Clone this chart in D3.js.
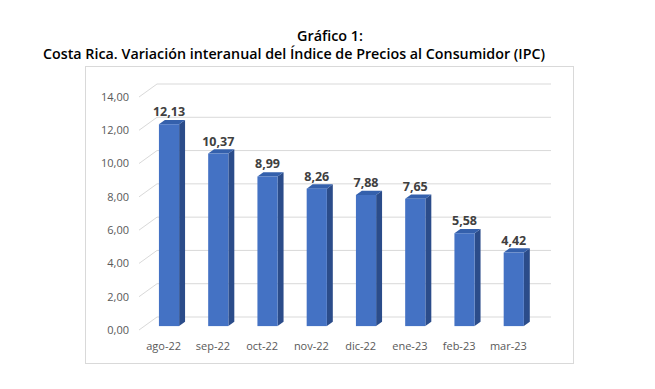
<!DOCTYPE html>
<html>
<head>
<meta charset="utf-8">
<script src="https://cdn.jsdelivr.net/npm/d3@7"></script>
<style>
  body { margin: 0; background: #fff; }
  svg { display: block; }
</style>
</head>
<body>
<div id="chart"></div>
<script>
var categories = ["ago-22", "sep-22", "oct-22", "nov-22", "dic-22", "ene-23", "feb-23", "mar-23"];
var values = [12.13, 10.37, 8.99, 8.26, 7.88, 7.65, 5.58, 4.42];
var tickValues = [0, 2, 4, 6, 8, 10, 12, 14];
var titleLine1 = "Gráfico 1:";
var titleLine2 = "Costa Rica. Variación interanual del Índice de Precios al Consumidor (IPC)";

var width = 655, height = 389;

var svg = d3.select("#chart")
    .append("svg")
    .attr("width", width)
    .attr("height", height);

// titles
svg.append("text")
    .attr("x", 297)
    .attr("y", 41)
    .attr("font-family", "Open Sans")
    .attr("font-weight", 600)
    .attr("font-size", 14)
    .attr("fill", "#000")
    .attr("textLength", 66)
    .attr("lengthAdjust", "spacingAndGlyphs")
    .text(titleLine1);

svg.append("text")
    .attr("x", 43)
    .attr("y", 59)
    .attr("font-family", "Open Sans")
    .attr("font-weight", 600)
    .attr("font-size", 14)
    .attr("fill", "#000")
    .attr("textLength", 502)
    .attr("lengthAdjust", "spacingAndGlyphs")
    .text(titleLine2);

// chart frame
svg.append("rect")
    .attr("x", 85.5)
    .attr("y", 66.5)
    .attr("width", 488)
    .attr("height", 297)
    .attr("fill", "#fff")
    .attr("stroke", "#d9d9d9");

// 3D depth: offset of the back wall relative to the front plane
var depthX = 18, depthY = -13;
function off(f) { return [depthX * f, depthY * f]; }

var x = d3.scaleBand()
    .domain(categories)
    .range([139, 533])
    .paddingInner(0)
    .paddingOuter(0);

var y = d3.scaleLinear()
    .domain([0, 14])
    .range([330, 97]);

var fmt = function (v) { return d3.format(".2f")(v).replace(".", ","); };

// gridlines on back wall + diagonal on left wall
var back = off(1);
var grid = svg.append("g").attr("class", "grid");
grid.selectAll("line.back").data(tickValues)
    .enter().append("line")
    .attr("class", "back")
    .attr("x1", x.range()[0] + back[0])
    .attr("x2", x.range()[1] + back[0])
    .attr("y1", function (d) { return y(d) + back[1]; })
    .attr("y2", function (d) { return y(d) + back[1]; })
    .attr("stroke", "#d9d9d9")
    .attr("stroke-width", 1);

grid.selectAll("line.side").data(tickValues)
    .enter().append("line")
    .attr("class", "side")
    .attr("x1", x.range()[0])
    .attr("x2", x.range()[0] + back[0])
    .attr("y1", function (d) { return y(d); })
    .attr("y2", function (d) { return y(d) + back[1]; })
    .attr("stroke", "#d9d9d9")
    .attr("stroke-width", 1);

// y tick labels
svg.append("g").selectAll("text").data(tickValues)
    .enter().append("text")
    .attr("x", 129)
    .attr("y", function (d) { return y(d); })
    .attr("dy", "0.35em")
    .attr("text-anchor", "end")
    .attr("font-family", "Open Sans")
    .attr("font-size", 11)
    .attr("fill", "#595959")
    .text(fmt);

// x labels
svg.append("g").selectAll("text").data(categories)
    .enter().append("text")
    .attr("x", function (d) { return x(d) + x.bandwidth() / 2; })
    .attr("y", 350)
    .attr("text-anchor", "middle")
    .attr("font-family", "Open Sans")
    .attr("font-size", 11)
    .attr("fill", "#595959")
    .text(function (d) { return d; });

// 3D bars
var fFront = 0.3, fBack = 0.63;
var barW = x.bandwidth() * 0.41;
var pf = off(fFront), pb = off(fBack);
var ddx = pb[0] - pf[0], ddy = pb[1] - pf[1];

var bars = svg.append("g").selectAll("g.bar")
    .data(values.map(function (v, i) { return { cat: categories[i], v: v }; }))
    .enter().append("g")
    .attr("class", "bar");

function bx(d) { return x(d.cat) + x.bandwidth() / 2 - barW / 2 + pf[0]; }
function by(d) { return y(d.v) + pf[1]; }
function b0() { return y(0) + pf[1]; }

// side face
bars.append("path")
    .attr("fill", "#2b4c8a")
    .attr("d", function (d) {
        var x1 = bx(d) + barW, yt = by(d), yb = b0();
        return "M" + x1 + "," + yt + "L" + (x1 + ddx) + "," + (yt + ddy) +
            "L" + (x1 + ddx) + "," + (yb + ddy) + "L" + x1 + "," + yb + "Z";
    });

// top face
bars.append("path")
    .attr("fill", "#3460ac")
    .attr("d", function (d) {
        var x0 = bx(d), yt = by(d);
        return "M" + x0 + "," + yt + "L" + (x0 + ddx) + "," + (yt + ddy) +
            "L" + (x0 + barW + ddx) + "," + (yt + ddy) + "L" + (x0 + barW) + "," + yt + "Z";
    });

// front face
bars.append("rect")
    .attr("fill", "#4472c4")
    .attr("x", bx)
    .attr("y", by)
    .attr("width", barW)
    .attr("height", function (d) { return b0() - by(d); });

// value labels
bars.append("text")
    .attr("x", function (d) { return bx(d) + barW / 2; })
    .attr("y", function (d) { return by(d) - 8; })
    .attr("text-anchor", "middle")
    .attr("font-family", "Open Sans")
    .attr("font-weight", "bold")
    .attr("font-size", 12.5)
    .attr("fill", "#404040")
    .text(function (d) { return fmt(d.v); });
</script>
</body>
</html>
